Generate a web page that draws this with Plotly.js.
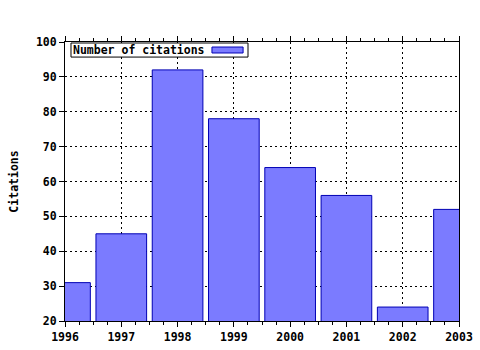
<!DOCTYPE html>
<html><head><meta charset="utf-8">
<script src="https://cdn.plot.ly/plotly-3.0.1.min.js"></script>
<style>html,body{margin:0;padding:0;background:#fff}</style>
</head><body>
<div id="chart" style="width:480px;height:350px"></div>
<script>
const years = [1996, 1997, 1998, 1999, 2000, 2001, 2002, 2003];
const citations = [31, 45, 92, 78, 64, 56, 24, 52];
const seriesName = "Number of citations";
const yTitle = "Citations";

const FONT = "DejaVu Sans Mono, monospace";
const trace = {
  type: 'bar', x: years, y: citations, width: 0.9, name: seriesName,
  marker: {color: '#7b7bff', line: {color: '#0000b4', width: 1}},
  showlegend: false, hoverinfo: 'skip'
};
const axCommon = {
  showline: true, linecolor: '#000', linewidth: 1, mirror: 'allticks',
  ticks: 'outside', ticklen: 5, tickcolor: '#000', tickwidth: 1,
  showgrid: true, gridcolor: '#000', gridwidth: 1, griddash: '2px,3px',
  zeroline: false, fixedrange: true,
  tickfont: {family: FONT, size: 11.5, color: '#000', weight: 'bold'}
};
const layout = {
  width: 480, height: 350,
  margin: {l: 65, r: 21, t: 42, b: 29},
  paper_bgcolor: '#fff', plot_bgcolor: '#fff',
  bargap: 0,
  xaxis: Object.assign({}, axCommon, {
    range: [1996, 2003], tickvals: years, ticktext: years.map(String),
    minor: {dtick: 0.25, ticks: 'outside', ticklen: 3, tickcolor: '#000', showgrid: false}
  }),
  yaxis: Object.assign({}, axCommon, {
    range: [20, 100], dtick: 10, mirror: true,
    title: {text: yTitle, standoff: 14, font: {family: FONT, size: 11.5, color: '#000', weight: 'bold'}}
  }),
  shapes: [
    {type: 'rect', xref: 'paper', yref: 'paper', x0: 0.0152, x1: 0.4645, y0: 0.946, y1: 0.9964,
     line: {color: '#000', width: 1}, fillcolor: '#fff', layer: 'above'},
    {type: 'rect', xref: 'paper', yref: 'paper', x0: 0.373, x1: 0.452, y0: 0.9606, y1: 0.982,
     line: {color: '#0000b4', width: 1}, fillcolor: '#7b7bff', layer: 'above'}
  ],
  annotations: [
    {xref: 'paper', yref: 'paper', x: 0.016, y: 0.971, xanchor: 'left', yanchor: 'middle',
     text: seriesName, showarrow: false,
     font: {family: FONT, size: 11.5, color: '#000', weight: 'bold'}}
  ]
};
Plotly.newPlot('chart', [trace], layout, {displayModeBar: false, staticPlot: true});
</script>
</body></html>
